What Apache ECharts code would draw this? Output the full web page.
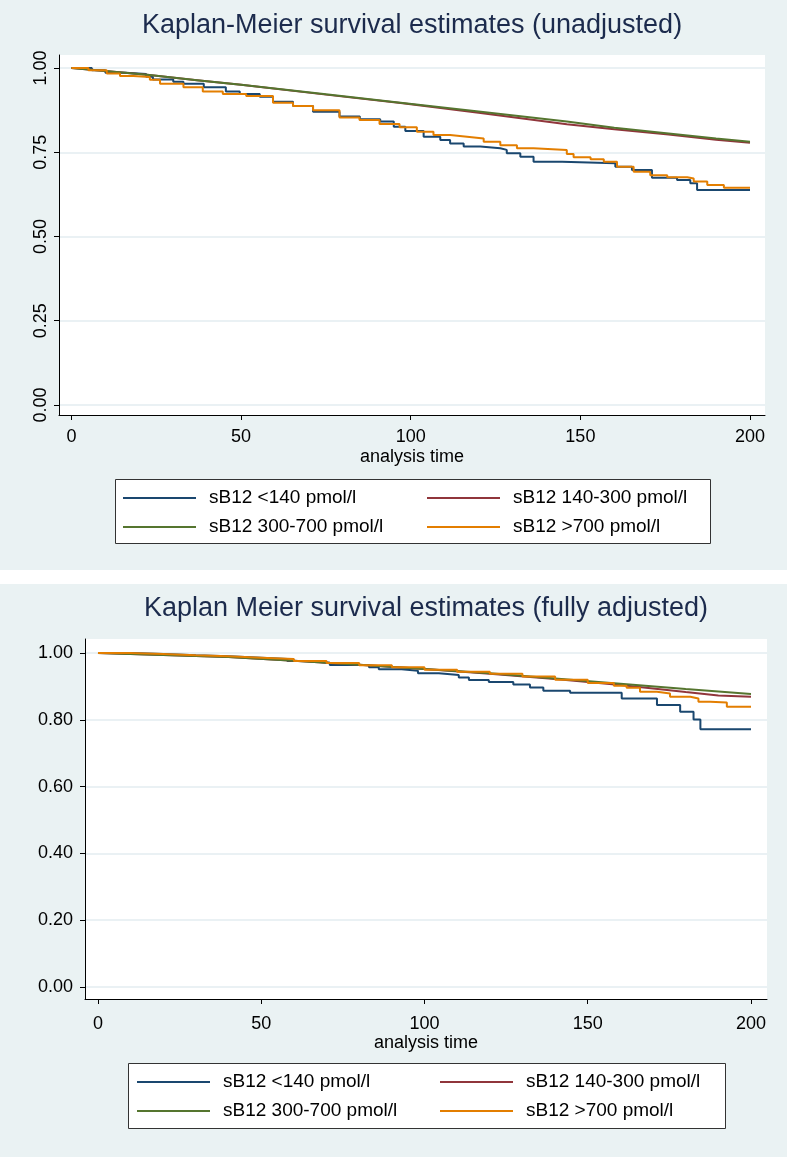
<!DOCTYPE html>
<html>
<head>
<meta charset="utf-8">
<script src="https://cdn.jsdelivr.net/npm/echarts@6/dist/echarts.min.js"></script>
<style>
html,body{margin:0;padding:0;background:#fff;}
#c{width:787px;height:1157px;}
</style>
</head>
<body>
<div id="c"></div>
<script>
// ---------- data ----------
const seriesNames = ['sB12 <140 pmol/l', 'sB12 140-300 pmol/l', 'sB12 300-700 pmol/l', 'sB12 >700 pmol/l'];
const seriesColors = ['#1a476f', '#90353b', '#55752f', '#e37e00'];
const xTicks = [0, 50, 100, 150, 200];
const topYTicks = [0, 0.25, 0.5, 0.75, 1];
const botYTicks = [0, 0.2, 0.4, 0.6, 0.8, 1];
const titles = ['Kaplan-Meier survival estimates (unadjusted)', 'Kaplan Meier survival estimates (fully adjusted)'];
const xName = 'analysis time';

// Top panel (unadjusted)
const topBlueT = [0, 6, 10, 16, 22, 24, 30, 33, 39, 45.5, 49.6, 55.5, 59.4, 65.3, 71.2, 79, 85, 91, 95, 98.4, 103.8, 108.7, 111.6, 115.6, 120.5, 126.4, 128.3, 132.3, 136.2, 144.6, 160.3, 165.2, 171.1, 178.5, 182.4, 184.4, 200];
const topBlueS = [1, 0.993, 0.986, 0.982, 0.974, 0.966, 0.959, 0.953, 0.943, 0.930, 0.923, 0.915, 0.900, 0.887, 0.870, 0.856, 0.848, 0.841, 0.826, 0.813, 0.796, 0.786, 0.776, 0.767, 0.762, 0.757, 0.747, 0.737, 0.722, 0.717, 0.707, 0.697, 0.674, 0.668, 0.658, 0.638, 0.638];
const topRedT = [0, 10, 23, 37, 50, 75, 97, 120, 146, 160, 176, 190, 200];
const topRedS = [1, 0.991, 0.979, 0.964, 0.950, 0.921, 0.896, 0.867, 0.833, 0.818, 0.803, 0.787, 0.778];
const topGreenT = [0, 10, 23, 37, 50, 75, 97, 120, 146, 160, 176, 190, 200];
const topGreenS = [1, 0.991, 0.979, 0.964, 0.950, 0.922, 0.897, 0.871, 0.841, 0.823, 0.806, 0.791, 0.781];
const topOrangeT = [0, 5, 10.4, 14.3, 18.2, 23.1, 26.1, 33, 38.7, 44.6, 51.5, 59.4, 65.3, 71.2, 79, 84.9, 90.8, 96.7, 101.8, 106.7, 111.6, 116.6, 121.5, 126.4, 131.3, 136.2, 146, 148, 153, 156.9, 160.8, 165.7, 170.6, 175.6, 181.5, 183.4, 187.4, 192.3, 200];
const topOrangeS = [1, 0.993, 0.984, 0.976, 0.973, 0.965, 0.953, 0.943, 0.930, 0.923, 0.917, 0.897, 0.887, 0.875, 0.853, 0.846, 0.834, 0.824, 0.811, 0.801, 0.796, 0.791, 0.781, 0.771, 0.762, 0.757, 0.745, 0.735, 0.729, 0.722, 0.707, 0.692, 0.682, 0.676, 0.672, 0.663, 0.653, 0.645, 0.645];

// Bottom panel (fully adjusted)
const botBlueT = [0, 10, 20, 30, 40, 50, 58, 64, 71, 83, 86, 93, 98, 104.4, 110.5, 113.6, 119.7, 127.2, 132.3, 136.4, 144.6, 160.4, 171.2, 178.3, 182.4, 184.5, 200];
const botBlueS = [1, 0.997, 0.993, 0.990, 0.986, 0.982, 0.976, 0.971, 0.964, 0.957, 0.951, 0.947, 0.939, 0.934, 0.927, 0.919, 0.913, 0.906, 0.897, 0.887, 0.881, 0.864, 0.844, 0.824, 0.801, 0.772, 0.772];
const botRedT = [0, 20, 40, 60, 80, 100, 120, 140, 160, 180, 190, 200];
const botRedS = [1, 0.994, 0.988, 0.977, 0.965, 0.952, 0.938, 0.922, 0.904, 0.883, 0.873, 0.869];
const botGreenT = [0, 20, 40, 60, 80, 100, 120, 140, 160, 180, 200];
const botGreenS = [1, 0.994, 0.988, 0.977, 0.965, 0.952, 0.939, 0.924, 0.908, 0.892, 0.877];
const botOrangeT = [0, 10, 20, 30, 40, 50, 60, 70, 80, 90, 100, 110, 120, 130, 140, 150, 158, 161.9, 166, 171.2, 175.2, 181.4, 183.9, 187.5, 192.6, 200];
const botOrangeS = [1, 0.997, 0.993, 0.990, 0.986, 0.982, 0.976, 0.970, 0.963, 0.957, 0.950, 0.944, 0.938, 0.930, 0.920, 0.910, 0.902, 0.896, 0.884, 0.879, 0.869, 0.864, 0.854, 0.852, 0.839, 0.839];

// ---------- chart ----------
const FONT = 'Liberation Sans, Arial, sans-serif';
const pairs = (T, S) => T.map((t, i) => [t, S[i]]);
const topData = [pairs(topBlueT, topBlueS), pairs(topRedT, topRedS), pairs(topGreenT, topGreenS), pairs(topOrangeT, topOrangeS)];
const botData = [pairs(botBlueT, botBlueS), pairs(botRedT, botRedS), pairs(botGreenT, botGreenS), pairs(botOrangeT, botOrangeS)];
const stepped = [true, false, false, true];

const chart = echarts.init(document.getElementById('c'), null, {renderer: 'canvas'});

function xAxisCfg(gridIndex, min, max, labelMargin, nameGap) {
  return {
    gridIndex, type: 'value', min, max,
    axisLine: {show: true, onZero: false, lineStyle: {color: '#000', width: 1}},
    axisTick: {show: true, customValues: xTicks, length: 5, inside: false, lineStyle: {color: '#000', width: 1}},
    axisLabel: {customValues: xTicks, fontSize: 18, color: '#000', fontFamily: FONT, margin: labelMargin},
    splitLine: {show: false},
    name: xName, nameLocation: 'middle', nameGap,
    nameTextStyle: {fontSize: 18, color: '#000', fontFamily: FONT}
  };
}
function yAxisCfg(gridIndex, min, max, ticks, rotate, labelMargin) {
  return {
    gridIndex, type: 'value', min, max,
    axisLine: {show: true, onZero: false, lineStyle: {color: '#000', width: 1}},
    axisTick: {show: true, customValues: ticks, length: 5, inside: false, lineStyle: {color: '#000', width: 1}},
    axisLabel: {customValues: ticks, fontSize: 18, color: '#000', fontFamily: FONT, margin: labelMargin, rotate,
      formatter: v => Number(v).toFixed(2)},
    splitLine: {show: true, customValues: ticks, lineStyle: {color: '#e3edf0', width: 1.5}}
  };
}

const series = [];
[topData, botData].forEach((dataSet, gi) => {
  dataSet.forEach((d, i) => {
    series.push({
      name: seriesNames[i], type: 'line', xAxisIndex: gi, yAxisIndex: gi,
      data: d, step: stepped[i] ? 'end' : false, showSymbol: false, symbol: 'none',
      lineStyle: {color: seriesColors[i], width: 2}, itemStyle: {color: seriesColors[i]},
      z: 3 + i, silent: true
    });
  });
});

function legendCfg(left, top, names) {
  return {
    orient: 'vertical', left, top, padding: 0, itemGap: 9,
    icon: 'rect', itemWidth: 73, itemHeight: 2, selectedMode: false,
    data: names,
    textStyle: {fontSize: 19, color: '#000', fontFamily: FONT, padding: [0, 0, 0, 8], lineHeight: 20}
  };
}

const option = {
  animation: false,
  backgroundColor: '#ffffff',
  title: [
    {text: titles[0], left: 412, top: 12, textAlign: 'center', padding: 0,
     textStyle: {fontSize: 27, fontWeight: 'normal', color: '#1c2b4d', fontFamily: FONT}},
    {text: titles[1], left: 426, top: 595, textAlign: 'center', padding: 0,
     textStyle: {fontSize: 27, fontWeight: 'normal', color: '#1c2b4d', fontFamily: FONT}}
  ],
  graphic: [
    {type: 'rect', z: -10, shape: {x: 0, y: 0, width: 787, height: 570}, style: {fill: '#eaf2f3'}},
    {type: 'rect', z: -10, shape: {x: 0, y: 584, width: 787, height: 573}, style: {fill: '#eaf2f3'}},
    {type: 'rect', z: 1, shape: {x: 115.5, y: 479.5, width: 595, height: 64}, style: {fill: '#fff', stroke: '#333', lineWidth: 1}},
    {type: 'rect', z: 1, shape: {x: 128.5, y: 1063.5, width: 597, height: 65}, style: {fill: '#fff', stroke: '#333', lineWidth: 1}}
  ],
  legend: [
    legendCfg(123, 488, [seriesNames[0], seriesNames[2]]),
    legendCfg(427, 488, [seriesNames[1], seriesNames[3]]),
    legendCfg(137, 1072, [seriesNames[0], seriesNames[2]]),
    legendCfg(440, 1072, [seriesNames[1], seriesNames[3]])
  ],
  grid: [
    {left: 59, top: 55, width: 706, height: 360, show: true, backgroundColor: '#ffffff', borderWidth: 0},
    {left: 85, top: 639, width: 682, height: 360, show: true, backgroundColor: '#ffffff', borderWidth: 0}
  ],
  xAxis: [
    xAxisCfg(0, -3.68, 204.42, 13, 33),
    xAxisCfg(1, -3.98, 204.9, 16, 34)
  ],
  yAxis: [
    yAxisCfg(0, -0.0297, 1.0386, topYTicks, 90, 9),
    yAxisCfg(1, -0.0359, 1.0419, botYTicks, 0, 12)
  ],
  series
};
chart.setOption(option);
</script>
</body>
</html>
